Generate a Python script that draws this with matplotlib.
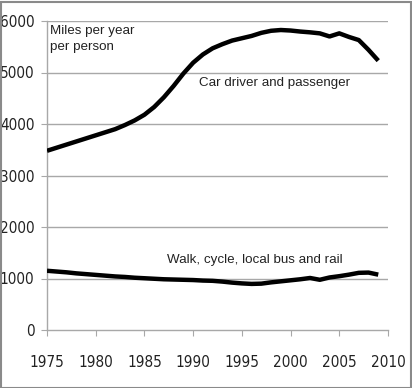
import matplotlib
matplotlib.use("Agg")
import matplotlib.pyplot as plt
from matplotlib.patches import Rectangle

years = list(range(1975, 2010))
car = [3480, 3540, 3600, 3660, 3720, 3780, 3840, 3900, 3980, 4070,
       4180, 4330, 4520, 4740, 4980, 5190, 5350, 5470, 5550, 5620,
       5665, 5710, 5770, 5810, 5825, 5815, 5795, 5780, 5760, 5700,
       5760, 5690, 5630, 5440, 5230]
walk = [1150, 1135, 1120, 1100, 1085, 1070, 1055, 1040, 1030, 1015,
        1005, 995, 985, 980, 975, 970, 960, 955, 940, 920,
        905, 895, 900, 925, 945, 965, 985, 1010, 975, 1020,
        1045, 1075, 1110, 1115, 1075]
x_ticks = [1975, 1980, 1985, 1990, 1995, 2000, 2005, 2010]
y_ticks = [0, 1000, 2000, 3000, 4000, 5000, 6000]

W, H = 412, 388
fig = plt.figure(figsize=(W / 100, H / 100), dpi=100)
ax = fig.add_axes([47 / W, 1 - 330 / H, (388 - 47) / W, (330 - 21) / H])

grid_c = "#a8a8a8"
for v in y_ticks[1:]:
    ax.axhline(v, color=grid_c, lw=1.0, zorder=1)

ax.plot(years, car, color="black", lw=3.2, solid_joinstyle="round",
        solid_capstyle="butt", zorder=3)
ax.plot(years, walk, color="black", lw=3.2, solid_joinstyle="round",
        solid_capstyle="butt", zorder=3)

ax.set_xlim(1975, 2010)
ax.set_ylim(0, 6000)
ax.set_xticks(x_ticks)
ax.set_yticks(y_ticks)

for s in ["top", "right"]:
    ax.spines[s].set_visible(False)
for s in ["left", "bottom"]:
    ax.spines[s].set_color(grid_c)
    ax.spines[s].set_linewidth(1.0)

ax.tick_params(axis="x", direction="out", length=4, color=grid_c, pad=14)
ax.tick_params(axis="y", direction="out", length=4, color=grid_c, pad=5)
for lab in ax.get_xticklabels() + ax.get_yticklabels():
    lab.set_fontfamily("DejaVu Sans")
    lab.set_fontstretch("condensed")
    lab.set_fontsize(11)
    lab.set_color("#222222")

txt_font = dict(family=["Liberation Sans", "DejaVu Sans"], size=9.6, color="#222222")
ax.text(1975.3, 5930, "Miles per year\nper person", ha="left", va="top",
        linespacing=1.45, **txt_font)
ax.text(1990.6, 4800, "Car driver and passenger", ha="left", va="center", **txt_font)
ax.text(1987.3, 1350, "Walk, cycle, local bus and rail", ha="left", va="center", **txt_font)

fig.patches.append(Rectangle((0.5 / W, 0.5 / H), 1 - 2 / W, 1 - 2 / H,
                             transform=fig.transFigure, fill=False,
                             edgecolor="#8a8a8a", lw=1.5))

fig.savefig("out.png", dpi=100)
